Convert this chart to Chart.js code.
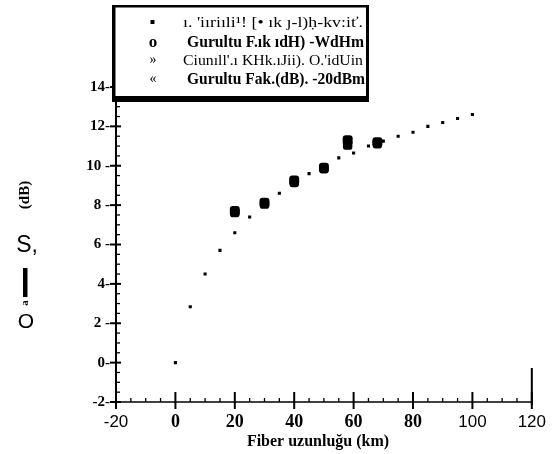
<!DOCTYPE html>
<html><head><meta charset="utf-8">
<script src="https://cdn.jsdelivr.net/npm/chart.js@4/dist/chart.umd.min.js"></script>
<style>html,body{margin:0;padding:0;background:#fff}#wrap{width:556px;height:454px;position:relative}</style>
</head><body><div id="wrap"><canvas id="c" width="556" height="454"></canvas></div>
<script>
// ---- data ----
const fiberKm = [0,5,10,15,20,25,30,35,40,45,50,55,60,65,70,75,80,85,90,95,100];
const snrCalc = [0,2.84,4.5,5.7,6.6,7.4,8.0,8.6,9.1,9.6,10.0,10.4,10.65,11.0,11.25,11.5,11.7,12.0,12.2,12.4,12.6];
const measKm = [20,30,40,50,58,68];
const snrMinus10 = [7.7,8.12,9.25,9.9,11.3,11.2];
const snrMinus20 = [7.62,8.05,9.15,9.85,11.05,11.12];
const xTickValues = [-20,0,20,40,60,80,100,120];
const yTickLabels = {'-2':'-2-','0':'0-','2':'2 -','4':'4-','6':'6 -','8':'8 -','10':'10 -','12':'12-','14':'14-'};
const legendLabels = ["ı. 'iıriıli¹! [• ık ȷ-l)ḥ-kv:iť.", "Gurultu F.ık ıdH) -WdHm", "Ciunıll'.ı KHk.ıJii). O.'idUin", "Gurultu Fak.(dB). -20dBm"];
const legendMarkers = ["▪", "o", "»", "«"];
const xTitle = "Fiber uzunluğu (km)";

const SERIF = '"Liberation Serif", "DejaVu Serif", serif';
const SANS = '"Liberation Sans", Arial, sans-serif';

const pts = (xs, ys) => xs.map((x, i) => ({x, y: ys[i]}));

const decor = {
  id: 'decor',
  afterDraw(chart) {
    const ctx = chart.ctx, xs = chart.scales.x, ys = chart.scales.y;
    const L = xs.getPixelForValue(-20), R = xs.getPixelForValue(120);
    const B = ys.getPixelForValue(-2), T = ys.getPixelForValue(14);
    ctx.save();
    ctx.strokeStyle = '#000'; ctx.fillStyle = '#000';
    // axis lines
    ctx.lineWidth = 1.5;
    ctx.beginPath(); ctx.moveTo(L - 2, B); ctx.lineTo(R, B); ctx.stroke();
    ctx.lineWidth = 2;
    ctx.beginPath(); ctx.moveTo(L, B + 3); ctx.lineTo(L, T - 15); ctx.stroke();
    ctx.beginPath(); ctx.moveTo(R, B + 3); ctx.lineTo(R, B - 34); ctx.stroke();
    // x ticks
    for (let v = -20; v <= 120; v += 5) {
      const px = xs.getPixelForValue(v);
      ctx.lineWidth = (v % 20 === 0) ? 2 : 1.3;
      ctx.beginPath();
      if (v % 20 === 0) { ctx.moveTo(px, B - 10); ctx.lineTo(px, B + 7); }
      else { ctx.moveTo(px, B - 4); ctx.lineTo(px, B); }
      ctx.stroke();
    }
    // y ticks
    for (let v = -2; v <= 14.001; v += 0.5) {
      const py = ys.getPixelForValue(v);
      const major = Math.abs(v % 2) < 1e-6;
      ctx.lineWidth = major ? 2 : 1.3;
      ctx.beginPath();
      if (major) { ctx.moveTo(L - 6, py); ctx.lineTo(L + 5, py); }
      else { ctx.moveTo(L, py); ctx.lineTo(L + 4, py); }
      ctx.stroke();
    }
    // x title
    ctx.font = 'bold 16px ' + SERIF;
    ctx.textAlign = 'center'; ctx.textBaseline = 'middle';
    ctx.fillText(xTitle, 318, 442);
    // y title fragments
    ctx.save();
    ctx.translate(25, 195); ctx.rotate(-Math.PI / 2);
    ctx.font = 'bold 15px ' + SERIF;
    ctx.fillText('(dB)', 0, 0);
    ctx.restore();
    ctx.font = '23px ' + SANS;
    ctx.fillText('S,', 27, 246);
    ctx.fillRect(23, 268, 4.5, 29);
    ctx.save();
    ctx.translate(25, 303); ctx.rotate(-Math.PI / 2);
    ctx.font = 'bold 11px ' + SERIF;
    ctx.fillText('a', 0, 0);
    ctx.restore();
    ctx.font = '21px ' + SANS;
    ctx.fillText('O', 26, 322);
    // legend box
    ctx.fillStyle = '#fff';
    ctx.fillRect(113, 5, 256, 97);
    ctx.fillStyle = '#000';
    ctx.fillRect(113, 5, 256, 2.5);
    ctx.fillRect(112, 5, 3.5, 97);
    ctx.fillRect(366, 5, 3, 97);
    ctx.fillRect(113, 96, 256, 6);
    const rows = [
      {y: 27, font: '14px ' + SERIF, w: 180, x: 183},
      {y: 47, font: 'bold 16px ' + SERIF, w: 177, x: 187},
      {y: 65, font: '15px ' + SERIF, w: 180, x: 183},
      {y: 84, font: 'bold 16px ' + SERIF, w: 178, x: 187}
    ];
    ctx.textAlign = 'left'; ctx.textBaseline = 'alphabetic';
    rows.forEach((r, i) => {
      ctx.font = r.font;
      const m = ctx.measureText(legendLabels[i]).width;
      ctx.save();
      ctx.translate(r.x, r.y);
      ctx.scale(r.w / m, 1);
      ctx.fillText(legendLabels[i], 0, 0);
      ctx.restore();
      ctx.textAlign = 'center';
      ctx.font = (i === 1 ? 'bold 17px ' : '14px ') + SERIF;
      if (i === 0) ctx.fillRect(150.5, 20, 4, 4);
      else ctx.fillText(legendMarkers[i], 153, r.y - (i === 1 ? 0 : 1));
      ctx.textAlign = 'left';
    });
    ctx.restore();
  }
};

new Chart(document.getElementById('c'), {
  type: 'scatter',
  data: {
    datasets: [
      {label: legendLabels[0], data: pts(fiberKm, snrCalc), pointStyle: 'rect', pointRadius: 2.2,
       backgroundColor: '#000', borderColor: '#000', borderWidth: 0},
      {label: legendLabels[1], data: pts(measKm, snrMinus10), pointStyle: 'rectRounded', pointRadius: 5.8,
       backgroundColor: '#000', borderColor: '#000', borderWidth: 0},
      {label: legendLabels[2], data: [], pointStyle: 'rect', pointRadius: 2,
       backgroundColor: '#000', borderColor: '#000', borderWidth: 0},
      {label: legendLabels[3], data: pts(measKm, snrMinus20), pointStyle: 'rectRounded', pointRadius: 5.5,
       backgroundColor: '#000', borderColor: '#000', borderWidth: 0}
    ]
  },
  options: {
    responsive: false, animation: false, devicePixelRatio: 1,
    layout: {padding: {left: 0, top: 87, right: 23, bottom: 0}},
    plugins: {legend: {display: false}, tooltip: {enabled: false}},
    scales: {
      x: {
        type: 'linear', min: -20, max: 120,
        afterFit: s => { s.height = 52; },
        afterBuildTicks: s => { s.ticks = xTickValues.map(v => ({value: v})); },
        grid: {display: false, drawTicks: false}, border: {display: false},
        ticks: {
          padding: 10, color: '#000', maxRotation: 0, autoSkip: false,
          font: c => {
            const v = c.tick ? c.tick.value : 0;
            return (v === -20 || v >= 100) ? {family: SANS, size: 17, weight: 'normal'}
                                            : {family: SERIF, size: 18, weight: 'bold'};
          }
        }
      },
      y: {
        type: 'linear', min: -2, max: 14,
        afterFit: s => { s.width = 116; },
        grid: {display: false, drawTicks: false}, border: {display: false},
        ticks: {stepSize: 2, padding: 6, color: '#000',
          font: {family: SERIF, size: 15, weight: 'bold'},
          callback: v => yTickLabels[String(v)] || String(v)}
      }
    }
  },
  plugins: [decor]
});
</script></body></html>
